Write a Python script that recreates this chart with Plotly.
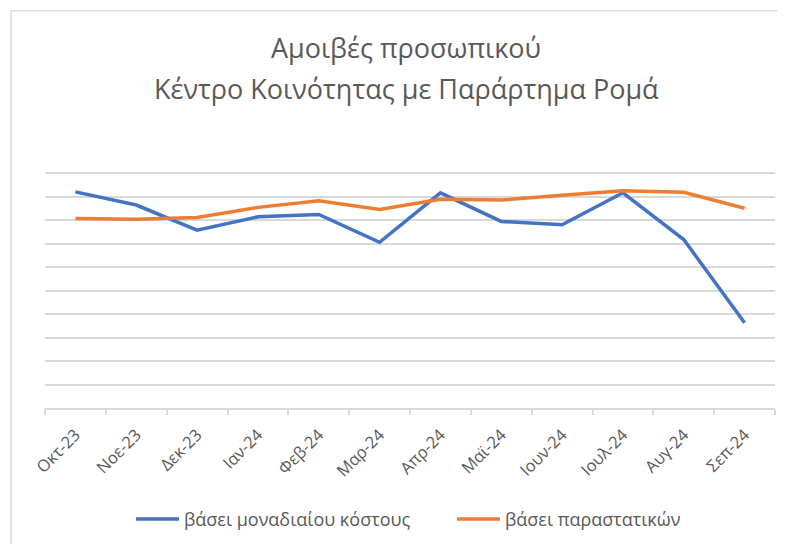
import plotly.graph_objects as go

months = ["Οκτ-23", "Νοε-23", "Δεκ-23", "Ιαν-24", "Φεβ-24", "Μαρ-24",
          "Απρ-24", "Μαϊ-24", "Ιουν-24", "Ιουλ-24", "Αυγ-24", "Σεπ-24"]
unit_cost = [9.21, 8.65, 7.58, 8.15, 8.25, 7.06, 9.17, 7.95, 7.81, 9.17, 7.18, 3.63]
receipts = [8.08, 8.04, 8.12, 8.55, 8.83, 8.46, 8.90, 8.86, 9.07, 9.26, 9.19, 8.51]
series_names = ["βάσει μοναδιαίου κόστους", "βάσει παραστατικών"]
title_lines = ["Αμοιβές προσωπικού", "Κέντρο Κοινότητας με Παράρτημα Ρομά"]
y_grid = list(range(0, 11))

FONT = "Open Sans"
GREY = "#595959"
GRID = "#d9d9d9"

# page body has an 8px default margin; compensate so the figure lines up
OFF = 8
FW, FH = 785 - OFF, 544 - OFF

fig = go.Figure()
fig.add_trace(go.Scatter(x=months, y=unit_cost, mode="lines", name=series_names[0],
                         line=dict(color="#4472C4", width=3.5)))
fig.add_trace(go.Scatter(x=months, y=receipts, mode="lines", name=series_names[1],
                         line=dict(color="#ED7D31", width=3.5)))

# plot area geometry in window pixels (y range padded a bit so top gridline shows)
YMAX = 10.1
STEP = 23.44
L, R, B = 45, 775, 407.7
T = B - STEP * YMAX
W, H = R - L, B - T

def px(x):
    return (x - L) / W

def py(y):
    return (B - y) / H

fig.update_layout(
    width=FW, height=FH,
    margin=dict(l=L - OFF, r=FW - (R - OFF), t=T - OFF, b=FH - (B - OFF), autoexpand=False),
    paper_bgcolor="white", plot_bgcolor="white",
    font=dict(family=FONT, color=GREY),
    title=dict(text=title_lines[0], x=px(406), xref="paper", xanchor="center",
               y=1 - (49 - OFF) / FH, yref="container", yanchor="middle",
               font=dict(size=27, color=GREY, family=FONT)),
    showlegend=True,
    legend=dict(orientation="h", x=px(131), xanchor="left", y=py(519), yanchor="middle",
                font=dict(size=18, color=GREY, family=FONT), itemwidth=43,
                entrywidth=263, entrywidthmode="pixels",
                bgcolor="rgba(0,0,0,0)"),
    xaxis=dict(type="category", tickson="boundaries", ticks="outside", ticklen=5,
               tickcolor=GRID, tickwidth=1.5, showline=True, linecolor=GRID, linewidth=1.5,
               showgrid=False, tickangle=-45, ticklabelstandoff=9,
               tickfont=dict(size=16.5, color=GREY, family=FONT),
               range=[-0.5, 11.5], automargin=False),
    yaxis=dict(range=[0, YMAX], tickvals=y_grid, showticklabels=False,
               showgrid=True, gridcolor=GRID, gridwidth=1.5, zeroline=False,
               showline=False, ticks="", automargin=False),
)

fig.add_annotation(text=title_lines[1], xref="paper", yref="paper", x=px(406), y=py(89),
                   xanchor="center", yanchor="middle", showarrow=False,
                   font=dict(size=27, color=GREY, family=FONT))

# chart border (top and left edges visible)
fig.add_shape(type="line", xref="paper", yref="paper",
              x0=px(11), x1=px(800), y0=py(11), y1=py(11),
              line=dict(color=GRID, width=1.5))
fig.add_shape(type="line", xref="paper", yref="paper",
              x0=px(11), x1=px(11), y0=py(11), y1=py(560),
              line=dict(color=GRID, width=1.5))

fig.write_html("out.html")
